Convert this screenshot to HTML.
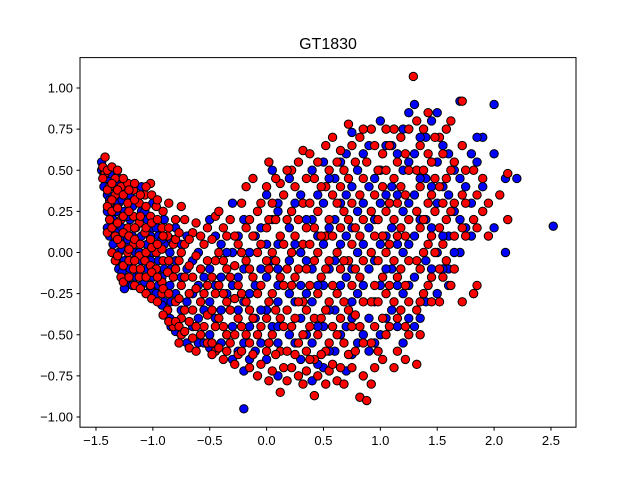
<!DOCTYPE html>
<html><head><meta charset="utf-8"><style>
body{margin:0;background:#fff}
svg{display:block;font-family:"Liberation Sans","DejaVu Sans",sans-serif}
</style></head><body>
<svg id="chart" width="640" height="480" viewBox="0 0 640 480" xmlns="http://www.w3.org/2000/svg">
<rect width="640" height="480" fill="#fff"/>
<text x="328" y="49" text-anchor="middle" font-size="16">GT1830</text>
<g id="pts"></g>
<rect x="80" y="57.6" width="496" height="369.6" fill="none" stroke="#000" stroke-width="1"/>
<g id="axes"></g>
</svg>
<script>
const xTicks=[-1.5,-1.0,-0.5,0.0,0.5,1.0,1.5,2.0,2.5];
const xTickLabels=["−1.5","−1.0","−0.5","0.0","0.5","1.0","1.5","2.0","2.5"];
const yTicks=[-1.0,-0.75,-0.5,-0.25,0.0,0.25,0.5,0.75,1.0];
const yTickLabels=["−1.00","−0.75","−0.50","−0.25","0.00","0.25","0.50","0.75","1.00"];
const blueCols=[
[-1.45,[0.55,0.5]],[-1.4,[0.45,0.35,0.25,0.15]],[-1.35,[0.5,0.4,0.3,0.2,0.05]],[-1.3,[0.45,0.3,0.15,0.0,-0.1]],
[-1.25,[0.4,0.25,0.1,-0.05,-0.22]],[-1.2,[0.35,0.2,0.05,-0.1]],[-1.15,[0.3,0.15,0.0,-0.15]],[-1.1,[0.4,0.25,0.1,-0.05,-0.2]],
[-1.05,[0.2,0.05,-0.1]],[-1.0,[0.3,0.15,0.0,-0.15,-0.25]],[-0.95,[0.1,-0.05,-0.2]],[-0.9,[0.2,0.05,-0.1,-0.3]],
[-0.85,[0.0,-0.2,-0.4]],[-0.8,[0.15,-0.05,-0.25,-0.48]],[-0.7,[0.1,-0.1,-0.3,-0.55]],[-0.6,[0.0,-0.2,-0.4,-0.55]],
[-0.5,[0.2,-0.1,-0.3,-0.5,-0.58]],[-0.4,[0.05,-0.15,-0.35,-0.55]],[-0.3,[0.3,0.0,-0.2,-0.45,-0.65]],
[-0.2,[0.2,-0.1,-0.3,-0.55,-0.72,-0.95]],[-0.1,[0.1,-0.2,-0.4,-0.6]],[0.0,[0.35,0.05,-0.15,-0.35,-0.65]],
[0.05,[0.5,0.2,-0.05,-0.45]],[0.1,[0.3,-0.1,-0.3,-0.55,-0.75]],[0.2,[0.45,0.15,-0.05,-0.25,-0.5]],
[0.3,[0.35,0.0,-0.2,-0.4,-0.65]],[0.4,[0.5,0.2,-0.1,-0.3,-0.55,-0.78]],[0.5,[0.55,0.3,0.05,-0.2,-0.45,-0.7]],
[0.6,[0.45,0.2,-0.05,-0.35,-0.6]],[0.7,[0.6,0.35,0.1,-0.15,-0.45,-0.72]],[0.75,[0.73,-0.3]],
[0.8,[0.5,0.25,0.0,-0.25,-0.55]],[0.9,[0.65,0.4,0.15,-0.1,-0.4,-0.6]],[1.0,[0.8,0.5,0.3,0.05,-0.2,-0.5]],
[1.1,[0.65,0.4,0.15,-0.1,-0.35]],[1.2,[0.75,0.5,0.25,0.0,-0.25,-0.55]],[1.3,[0.9,0.6,0.35,0.1,-0.15,-0.45]],
[1.4,[0.7,0.45,0.2,-0.05,-0.3]],[1.5,[0.85,0.55,0.3,0.0,-0.25]],[1.6,[0.6,0.35,0.1,-0.1,-0.2]],
[1.7,[0.92,0.45,0.2,0.0]],[1.8,[0.6,0.3,0.1]],[1.9,[0.7,0.4]],[2.0,[0.9,0.6,0.15]],[2.1,[0.45,0.0]],
[2.2,[0.45]],[2.52,[0.16]]
];
const blueCols2=[
[-1.43,[0.48,0.4]],[-1.38,[0.48,0.32,0.1]],[-1.32,[0.42,0.25,0.12,-0.05]],[-1.27,[0.32,0.15,0.02,-0.12]],
[-1.22,[0.22,0.08,-0.18]],[-1.18,[0.28,0.1,-0.05,-0.2]],[-1.12,[0.2,0.0,-0.12]],[-1.07,[0.25,-0.02,-0.18]],
[-1.02,[0.1,-0.05,-0.22]],[-0.97,[0.15,-0.12,-0.25]],[-0.92,[0.08,-0.15,-0.32]],[-0.84,[0.08,-0.1,-0.3,-0.45]],
[-0.75,[0.05,-0.15,-0.35,-0.5]],[-0.65,[-0.05,-0.25,-0.45]],[-0.55,[-0.15,-0.35,-0.55]],[-0.45,[0.1,-0.2,-0.4,-0.6]],
[-0.35,[0.0,-0.25,-0.5]],[-0.25,[0.1,-0.15,-0.35,-0.6]],[-0.15,[0.0,-0.25,-0.45,-0.65]],[-0.05,[0.15,-0.1,-0.35,-0.55]],
[0.1,[0.25,0.05,-0.2,-0.45]],[0.25,[0.3,0.05,-0.3,-0.55]],[0.35,[0.2,-0.05,-0.25,-0.5]],[0.45,[0.35,0.1,-0.2,-0.45,-0.68]],
[0.55,[0.45,0.15,-0.1,-0.35,-0.6]],[0.65,[0.55,0.3,0.05,-0.2,-0.5]],[0.75,[0.4,0.15,-0.1,-0.4,-0.62]],
[0.85,[0.6,0.3,0.05,-0.2,-0.5]],[0.95,[0.45,0.2,-0.05,-0.3,-0.55]],[1.05,[0.65,0.35,0.1,-0.1,-0.4]],
[1.15,[0.6,0.35,0.05,-0.2,-0.45]],[1.25,[0.85,0.55,0.3,0.05,-0.2,-0.4]],[1.35,[0.7,0.45,0.2,-0.1,-0.4]],
[1.45,[0.8,0.4,0.15,-0.1]],[1.55,[0.65,0.4,0.1,-0.1]],[1.65,[0.5,0.25,0.0]],[1.75,[0.4,0.15]],[1.85,[0.7,0.55]]
];
const redCols=[
[-1.42,[0.58,0.48]],[-1.38,[0.4,0.3,0.2]],[-1.33,[0.45,0.35,0.1,-0.05]],[-1.28,[0.4,0.2,0.05,-0.15]],
[-1.22,[0.42,0.3,0.15,0.0]],[-1.17,[0.38,0.22,0.05,-0.1]],[-1.12,[0.3,0.18,-0.02,-0.15]],[-1.07,[0.35,0.12,-0.05]],
[-1.02,[0.42,0.22,0.08,-0.08,-0.2]],[-0.97,[0.28,0.0,-0.1]],[-0.92,[0.15,0.02,-0.18,-0.25]],[-0.87,[0.1,-0.12,-0.35]],
[-0.82,[0.05,-0.15,-0.45]],[-0.75,[0.28,0.0,-0.2,-0.4,-0.5]],[-0.65,[0.12,-0.15,-0.35,-0.52]],[-0.55,[0.05,-0.25,-0.45]],
[-0.45,[0.22,-0.05,-0.25,-0.45,-0.6]],[-0.35,[0.1,-0.1,-0.3,-0.5,-0.6]],[-0.25,[0.05,-0.2,-0.4,-0.62]],
[-0.18,[0.4,0.15,-0.05,-0.3,-0.5]],[-0.08,[0.25,0.0,-0.25,-0.5,-0.75]],[0.02,[0.55,0.2,-0.1,-0.3,-0.55,-0.78]],
[0.12,[0.42,0.1,-0.15,-0.4,-0.6,-0.85]],[0.22,[0.5,0.25,0.0,-0.2,-0.45,-0.7]],[0.32,[0.62,0.3,0.05,-0.3,-0.5,-0.8]],
[0.42,[0.45,0.15,-0.05,-0.4,-0.65,-0.87]],[0.52,[0.65,0.4,0.1,-0.1,-0.35,-0.6,-0.8]],[0.62,[0.55,0.3,0.0,-0.25,-0.5,-0.78]],
[0.72,[0.78,0.45,0.2,-0.05,-0.35,-0.62]],[0.82,[0.7,0.35,0.1,-0.15,-0.45,-0.88]],[0.88,[-0.9,0.55]],
[0.92,[0.75,0.25,0.0,-0.3,-0.55,-0.8]],[1.02,[0.6,0.4,0.1,-0.15,-0.4,-0.65]],[1.12,[0.75,0.45,0.2,-0.05,-0.3,-0.7]],
[1.22,[0.6,0.35,0.1,-0.2,-0.45,-0.65]],[1.29,[1.07]],[1.32,[0.8,0.5,0.25,-0.05,-0.35,-0.68]],
[1.42,[0.85,0.6,0.3,0.05,-0.2]],[1.52,[0.7,0.4,0.15,-0.1,-0.3]],[1.62,[0.8,0.5,0.25,-0.2]],
[1.72,[0.92,0.65,0.35,0.15,-0.3]],[1.82,[0.5,0.2,-0.25]],[1.95,[0.3,0.1]],[2.12,[0.2,0.48]]
];
const redCols2=[
[-1.44,[0.52,0.45]],[-1.4,[0.5,0.38,0.28,0.12]],[-1.36,[0.52,0.42,0.32,0.25,0.15,0.0]],[-1.31,[0.5,0.38,0.27,0.18,0.08,-0.02]],
[-1.26,[0.45,0.35,0.22,0.12,-0.08,-0.18]],[-1.21,[0.38,0.25,0.1,0.02,-0.05,-0.15]],[-1.16,[0.42,0.32,0.15,0.08,-0.05,-0.2]],
[-1.11,[0.35,0.22,0.05,-0.1,-0.22]],[-1.06,[0.4,0.28,0.15,0.0,-0.15,-0.25]],[-1.01,[0.35,0.18,0.03,-0.12,-0.28]],
[-0.96,[0.32,0.2,0.05,-0.15,-0.3]],[-0.91,[0.25,0.1,-0.05,-0.22,-0.38]],[-0.86,[0.3,0.15,-0.05,-0.25,-0.42]],
[-0.8,[0.2,0.08,-0.1,-0.3,-0.42]],[-0.77,[0.12,-0.05,-0.28,-0.45,-0.55]],[-0.72,[0.2,0.05,-0.15,-0.35,-0.48]],
[-0.68,[0.08,-0.08,-0.25,-0.42,-0.58]],[-0.62,[0.18,-0.02,-0.22,-0.45,-0.6]],[-0.58,[0.1,-0.1,-0.3,-0.5]],
[-0.52,[0.15,-0.05,-0.2,-0.38,-0.55]],[-0.48,[0.08,-0.15,-0.35,-0.55,-0.62]],[-0.42,[0.25,0.0,-0.2,-0.4,-0.58]],
[-0.38,[0.15,-0.05,-0.25,-0.45,-0.65]],[-0.32,[0.2,-0.15,-0.35,-0.55]],[-0.28,[0.1,-0.08,-0.28,-0.5,-0.68]],
[-0.22,[0.3,0.0,-0.25,-0.45,-0.6]],[-0.15,[0.2,-0.1,-0.35,-0.55,-0.7]],[-0.12,[0.45,0.1,-0.15,-0.4,-0.62]],
[-0.05,[0.3,0.05,-0.2,-0.45,-0.68]],[0.0,[0.4,0.15,-0.05,-0.4,-0.6]],[0.05,[0.3,0.0,-0.25,-0.5,-0.72]],
[0.08,[0.45,0.2,-0.05,-0.35,-0.62]],[0.15,[0.35,0.05,-0.2,-0.45,-0.7]],[0.18,[0.5,0.2,-0.1,-0.35,-0.6,-0.78]],
[0.25,[0.4,0.1,-0.15,-0.4,-0.62]],[0.28,[0.55,0.2,-0.1,-0.3,-0.55,-0.75]],[0.35,[0.45,0.15,-0.1,-0.35,-0.6,-0.72]],
[0.38,[0.6,0.3,0.05,-0.2,-0.45,-0.65]],[0.45,[0.55,0.25,0.0,-0.25,-0.5,-0.75]],[0.48,[0.4,0.1,-0.15,-0.4,-0.62]],
[0.55,[0.5,0.2,-0.05,-0.3,-0.55,-0.72]],[0.58,[0.7,0.35,0.1,-0.2,-0.45,-0.68]],[0.65,[0.62,0.4,0.15,-0.1,-0.4,-0.7]],
[0.68,[0.5,0.25,-0.05,-0.3,-0.55,-0.8]],[0.75,[0.65,0.3,0.05,-0.2,-0.45,-0.7]],[0.78,[0.55,0.15,-0.1,-0.38,-0.6]],
[0.85,[0.75,0.45,0.2,-0.05,-0.3,-0.55,-0.75]],[0.95,[0.65,0.35,0.1,-0.2,-0.45,-0.7]],[0.98,[0.5,0.2,-0.05,-0.3,-0.6]],
[1.05,[0.75,0.5,0.25,0.0,-0.25,-0.5]],[1.08,[0.65,0.3,0.05,-0.2,-0.45]],[1.15,[0.55,0.3,0.1,-0.15,-0.4,-0.6]],
[1.18,[0.7,0.4,0.15,-0.1,-0.35]],[1.25,[0.75,0.5,0.2,-0.05,-0.3,-0.5]],[1.35,[0.65,0.4,0.15,-0.1,-0.3,-0.5]],
[1.38,[0.75,0.5,0.2,0.0,-0.25]],[1.45,[0.55,0.35,0.1,-0.15,-0.3]],[1.48,[0.7,0.45,0.25,0.0]],
[1.55,[0.6,0.3,0.05,-0.15]],[1.58,[0.75,0.45,0.2,-0.05]],[1.65,[0.55,0.3,0.1,-0.1]],[1.75,[0.5,0.3,0.1]],
[1.85,[0.35,0.15,-0.2]],[1.9,[0.45,0.25]],[2.05,[0.35]]
];
const NS="http://www.w3.org/2000/svg";
function sx(v){return 266.6+v*113.75;}
function sy(v){return 252.5-v*164.5;}
const pts=document.getElementById('pts');
function draw(cols,color,name){
  cols.forEach(c=>{c[1].forEach(y=>{
    const el=document.createElementNS(NS,'circle');
    el.setAttribute('cx',sx(c[0]));el.setAttribute('cy',sy(y));el.setAttribute('r',4.2);
    el.setAttribute('fill',color);el.setAttribute('stroke','#000');el.setAttribute('stroke-width',1);
    
    
    pts.appendChild(el);
  });});
}
draw(blueCols,'#0000ff','blue-point');
draw(blueCols2,'#0000ff','blue-point');
draw(redCols,'#ff0000','red-point');
draw(redCols2,'#ff0000','red-point');
const ax=document.getElementById('axes');
xTicks.forEach((v,i)=>{
  const x=sx(v);
  const l=document.createElementNS(NS,'line');
  l.setAttribute('x1',x);l.setAttribute('x2',x);l.setAttribute('y1',427.2);l.setAttribute('y2',430.7);l.setAttribute('stroke','#000');
  
  
  ax.appendChild(l);
  const t=document.createElementNS(NS,'text');
  t.setAttribute('x',x);t.setAttribute('y',445);t.setAttribute('text-anchor','middle');t.setAttribute('font-size','13');
  t.textContent=xTickLabels[i];
  
  
  ax.appendChild(t);
});
yTicks.forEach((v,i)=>{
  const y=sy(v);
  const l=document.createElementNS(NS,'line');
  l.setAttribute('x1',76.5);l.setAttribute('x2',80);l.setAttribute('y1',y);l.setAttribute('y2',y);l.setAttribute('stroke','#000');
  
  
  ax.appendChild(l);
  const t=document.createElementNS(NS,'text');
  t.setAttribute('x',73);t.setAttribute('y',y+4.5);t.setAttribute('text-anchor','end');t.setAttribute('font-size','13');
  t.textContent=yTickLabels[i];
  
  
  ax.appendChild(t);
});
</script>
</body></html>
